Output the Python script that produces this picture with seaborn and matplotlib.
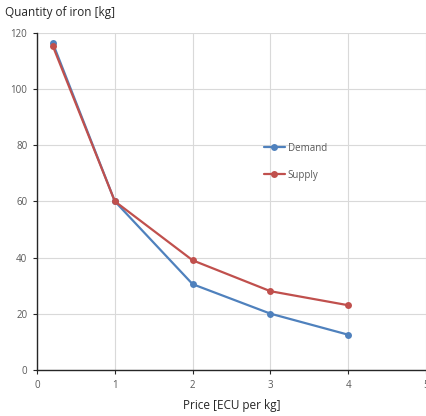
import matplotlib
matplotlib.use("Agg")
import matplotlib.pyplot as plt
import pandas as pd
import seaborn as sns

price = [0.2, 1, 2, 3, 4]
demand = [116.5, 60, 30.5, 20, 12.5]
supply = [115.5, 60, 39, 28, 23]
series_names = ["Demand", "Supply"]
x_ticks = [0, 1, 2, 3, 4, 5]
y_ticks = [0, 20, 40, 60, 80, 100, 120]

df = pd.DataFrame({
    "price": price * 2,
    "qty": demand + supply,
    "series": [series_names[0]] * len(price) + [series_names[1]] * len(price),
})

sns.set_style("white")
plt.rcParams["font.family"] = ["Open Sans", "DejaVu Sans"]

fig = plt.figure(figsize=(4.26, 4.16), dpi=100)
ax = fig.add_axes([0.087, 0.111, 0.913, 0.81])

sns.lineplot(data=df, x="price", y="qty", hue="series",
             palette=["#4F81BD", "#C0504D"], marker="o", markersize=5,
             markeredgewidth=0, linewidth=1.6, ax=ax)

ax.set_xlim(0, 5)
ax.set_ylim(0, 120)
ax.set_xticks(x_ticks)
ax.set_yticks(y_ticks)
ax.grid(True, color="#D9D9D9", linewidth=0.8)
ax.set_axisbelow(True)
for s in ["top", "right"]:
    ax.spines[s].set_visible(False)
for s in ["left", "bottom"]:
    ax.spines[s].set_color("#262626")
    ax.spines[s].set_linewidth(1.0)
ax.tick_params(axis="both", labelsize=7, colors="#595959", length=3,
               direction="out", pad=4)
ax.tick_params(axis="both", color="#262626")
ax.xaxis.set_ticks_position("bottom")
ax.yaxis.set_ticks_position("left")

ax.set_xlabel("Price [ECU per kg]", fontsize=8.5, color="#262626", labelpad=6)
ax.set_ylabel("")
fig.text(0.012, 0.97, "Quantity of iron [kg]", fontsize=8.5, color="#262626",
         ha="left", va="center")

leg = ax.legend(loc="upper left", bbox_to_anchor=(0.56, 0.70), frameon=False,
                fontsize=7, labelcolor="#595959", handlelength=2.2,
                handletextpad=0.3, labelspacing=1.65, title=None)

fig.savefig("out.png", dpi=100)
